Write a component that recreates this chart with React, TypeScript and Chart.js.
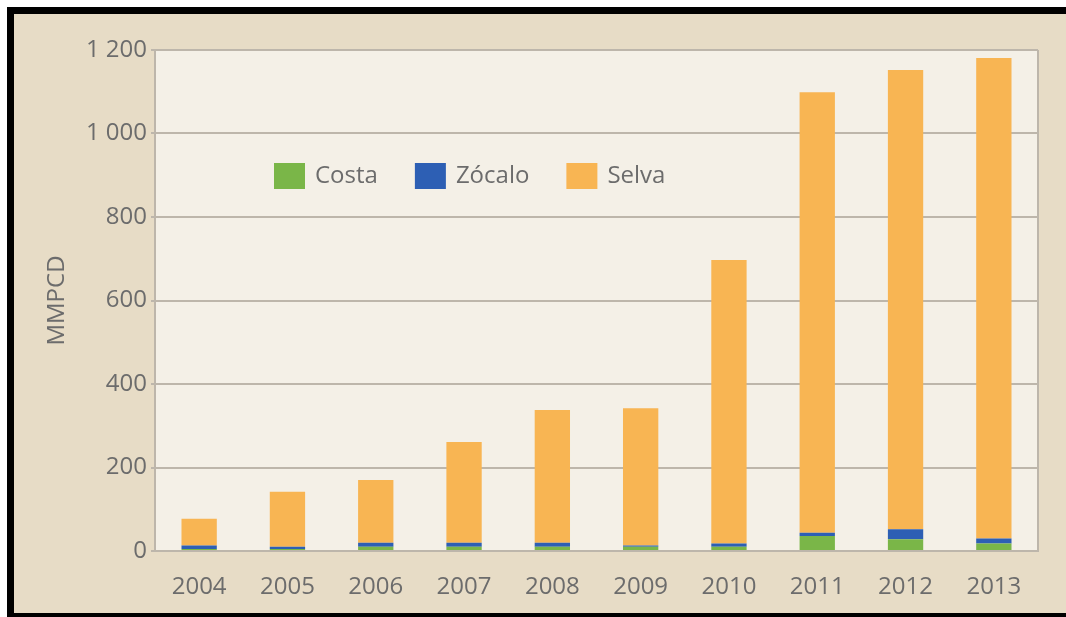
import React, { useEffect, useRef } from "react";
import { Chart, registerables } from "chart.js";

Chart.register(...registerables);

const years = ["2004", "2005", "2006", "2007", "2008", "2009", "2010", "2011", "2012", "2013"];
const costa = [5, 5, 10, 10, 10, 10, 10, 36, 28, 18];
const zocalo = [8, 5, 10, 10, 10, 3, 8, 8, 24, 12];
const selva = [64, 132, 150, 241, 318, 329, 679, 1055, 1100, 1151];
const yTickLabels = ["0", "200", "400", "600", "800", "1 000", "1 200"];
const seriesNames = ["Costa", "Zócalo", "Selva"];

const FONT = "'Open Sans', 'DejaVu Sans', sans-serif";
const TEXT = "#6c6c6c";
const GRID = "#bdb6ab";

const plotBg = {
  id: "plotBg",
  beforeDraw(chart: any) {
    const { ctx, chartArea: a } = chart;
    ctx.save();
    ctx.fillStyle = "#f4f0e7";
    ctx.fillRect(a.left, a.top, a.right - a.left, a.bottom - a.top);
    ctx.restore();
  },
  afterDraw(chart: any) {
    const { ctx, chartArea: a } = chart;
    ctx.save();
    ctx.strokeStyle = GRID;
    ctx.lineWidth = 2;
    ctx.beginPath();
    ctx.moveTo(a.right, a.top);
    ctx.lineTo(a.right, a.bottom);
    ctx.stroke();
    ctx.restore();
  },
};

const innerLegend = {
  id: "innerLegend",
  afterDatasetsDraw(chart: any) {
    const { ctx, chartArea: a } = chart;
    ctx.save();
    ctx.font = `24px ${FONT}`;
    ctx.textBaseline = "middle";
    let x = a.left + 119;
    const cy = a.top + 126;
    chart.data.datasets.forEach((ds: any) => {
      ctx.fillStyle = ds.backgroundColor;
      ctx.fillRect(x, cy - 13, 31, 26);
      x += 31 + 10;
      ctx.fillStyle = TEXT;
      ctx.fillText(ds.label, x, cy);
      x += ctx.measureText(ds.label).width + 37;
    });
    ctx.restore();
  },
};

function BarChart() {
  const ref = useRef<HTMLCanvasElement | null>(null);
  useEffect(() => {
    if (!ref.current) return;
    const chart = new Chart(ref.current, {
      type: "bar",
      data: {
        labels: years,
        datasets: [
          { label: seriesNames[0], data: costa, backgroundColor: "#7ab648" },
          { label: seriesNames[1], data: zocalo, backgroundColor: "#2d5fb4" },
          { label: seriesNames[2], data: selva, backgroundColor: "#f8b553" },
        ],
      },
      options: {
        responsive: false,
        animation: false,
        events: [],
        layout: { padding: { left: 0, right: 28, top: 36, bottom: 0 } },
        datasets: { bar: { barPercentage: 0.4, categoryPercentage: 1 } },
        plugins: { legend: { display: false }, tooltip: { enabled: false } },
        scales: {
          x: {
            stacked: true,
            grid: { display: false },
            border: { display: true, color: GRID, width: 2 },
            ticks: { color: TEXT, font: { family: FONT, size: 24 }, padding: 14, maxRotation: 0 },
            afterFit(scale: any) {
              scale.height = 62;
            },
          },
          y: {
            stacked: true,
            min: 0,
            max: 1200,
            grid: { color: GRID, lineWidth: 2, tickLength: 4 },
            border: { display: true, color: GRID, width: 2 },
            ticks: {
              stepSize: 200,
              color: TEXT,
              font: { family: FONT, size: 24 },
              padding: 4,
              callback: (_v: any, i: number) => yTickLabels[i],
            },
            title: {
              display: true,
              text: "MMPCD",
              color: TEXT,
              font: { family: FONT, size: 24 },
              padding: { top: 29, bottom: 0 },
            },
            afterFit(scale: any) {
              scale.width = 141;
            },
          },
        },
      },
      plugins: [plotBg, innerLegend],
    } as any);
    return () => chart.destroy();
  }, []);
  return <canvas ref={ref} width={1052} height={599} style={{ display: "block" }} />;
}

export default function App() {
  return (
    <div
      style={{
        position: "absolute",
        left: 7,
        top: 7,
        width: 1059,
        height: 610,
        boxSizing: "border-box",
        borderTop: "7px solid #000",
        borderLeft: "7px solid #000",
        borderBottom: "4px solid #000",
        background: "#e7dcc6",
        overflow: "hidden",
      }}
    >
      <BarChart />
    </div>
  );
}
